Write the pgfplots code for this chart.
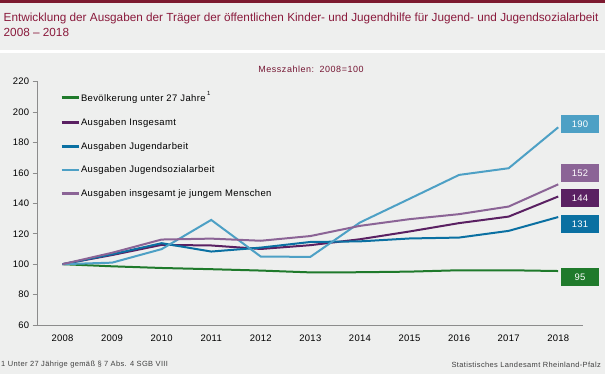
\documentclass[border=0pt]{standalone}
\usepackage{fontspec}
\setmainfont{Liberation Sans}
\usepackage{pgfplots}
\pgfplotsset{compat=1.18}
\definecolor{bg}{HTML}{EEEFEE}
\definecolor{topbar}{HTML}{7D1A30}
\definecolor{titlec}{HTML}{8A1A3C}
\definecolor{cgreen}{HTML}{1F7A2B}
\definecolor{cdpurple}{HTML}{5A2062}
\definecolor{cblue}{HTML}{0A70A2}
\definecolor{clblue}{HTML}{4DA0C5}
\definecolor{clpurple}{HTML}{8B6496}
\definecolor{axisc}{HTML}{8C8C8C}
\begin{document}
\begin{tikzpicture}[x=1bp,y=1bp]
\fill[bg] (0,0) rectangle (605,374);
\useasboundingbox (0,0) rectangle (605,374);
\fill[topbar] (0,371.3) rectangle (605,374);
\fill[white] (0,320.7) rectangle (605,324);
\node[anchor=west,inner sep=0,text=titlec,font=\fontsize{11.8}{13}\selectfont] at (3.5,356) {Entwicklung der Ausgaben der Träger der öffentlichen Kinder- und Jugendhilfe für Jugend- und Jugendsozialarbeit};
\node[anchor=west,inner sep=0,text=titlec,font=\fontsize{11.8}{13}\selectfont] at (3.5,342) {2008 -- 2018};
\node[inner sep=0,text=titlec!85!black,font=\fontsize{9}{10}\selectfont\addfontfeatures{LetterSpace=6}] at (311,305) {Messzahlen:\, 2008=100};
\node[anchor=west,inner sep=0,text=black!75,font=\fontsize{7.5}{8}\selectfont\addfontfeatures{LetterSpace=5}] at (1,9) {1 Unter 27 Jährige gemäß § 7 Abs. 4 SGB VIII};
\node[anchor=east,inner sep=0,text=black!75,font=\fontsize{7.5}{8}\selectfont\addfontfeatures{LetterSpace=5}] at (601,9) {Statistisches Landesamt Rheinland-Pfalz};
\begin{axis}[
  at={(37.7bp,49bp)}, anchor=south west,
  width=545.3bp, height=243.3bp, scale only axis,
  xmin=-0.5, xmax=10.5, ymin=60, ymax=220,
  ytick={60,80,...,220},
  xtick={0,...,10},
  xticklabels={2008,2009,2010,2011,2012,2013,2014,2015,2016,2017,2018},
  minor xtick={-0.5,0.5,...,10.5},
  axis x line*=bottom, axis y line*=left,
  axis line style={axisc, line width=0.8bp},
  tick align=outside,
  major tick length=5bp, minor tick length=4bp,
  xtick style={draw=none},
  minor x tick style={axisc, line width=0.8bp},
  ytick style={axisc, line width=0.8bp},
  tick label style={font=\fontsize{9.5}{10}\selectfont\addfontfeatures{LetterSpace=3}, text=black},
  /pgf/number format/assume math mode=true,
  xticklabel style={yshift=-1bp},
  clip=false,
  legend cell align=left,
  legend style={at={(22.3bp,234.8bp)}, anchor=north west, draw=none, fill=none,
    font=\fontsize{9.5}{10}\selectfont\addfontfeatures{LetterSpace=4}, row sep=13.4bp, inner sep=0pt,
    nodes={inner sep=1bp}},
  legend image code/.code={\draw[#1, line width=2.8bp] (-1bp,0bp) -- (16bp,0bp);},
  every axis plot/.append style={line width=2bp},
]
\addplot[cgreen] coordinates {(0,100) (1,98.6) (2,97.5) (3,96.7) (4,95.8) (5,94.6) (6,94.7) (7,95.1) (8,96.0) (9,96.0) (10,95.5)};
\addlegendentry{Bevölkerung unter 27 Jahre\,\raisebox{6bp}{\fontsize{6}{6}\selectfont 1}}
\addplot[cdpurple] coordinates {(0,100) (1,106) (2,112.7) (3,112.3) (4,110) (5,112.5) (6,116.4) (7,121.5) (8,127) (9,131.3) (10,144.5)};
\addlegendentry{Ausgaben Insgesamt}
\addplot[cblue] coordinates {(0,100) (1,106.5) (2,113.8) (3,108.3) (4,110.9) (5,114.6) (6,115) (7,116.9) (8,117.5) (9,121.9) (10,131)};
\addlegendentry{Ausgaben Jugendarbeit}
\addplot[clblue] coordinates {(0,100) (1,101) (2,109.9) (3,129.1) (4,105) (5,104.8) (6,127.4) (7,143) (8,158.7) (9,163.1) (10,190)};
\addlegendentry{Ausgaben Jugendsozialarbeit}
\addplot[clpurple] coordinates {(0,100) (1,107.5) (2,116.2) (3,116.8) (4,115.4) (5,118.5) (6,125.2) (7,129.6) (8,132.9) (9,137.9) (10,152.5)};
\addlegendentry{Ausgaben insgesamt je jungem Menschen}
\tikzset{vlab/.style={minimum width=38bp, minimum height=18bp, inner sep=0pt, text=white, font=\fontsize{9.5}{10}\selectfont\addfontfeatures{LetterSpace=3}}}
\node[vlab, fill=clblue] at (axis cs:10.44,192.3) {190};
\node[vlab, fill=clpurple] at (axis cs:10.44,160) {152};
\node[vlab, fill=cdpurple] at (axis cs:10.44,143.6) {144};
\node[vlab, fill=cblue] at (axis cs:10.44,126.5) {131};
\node[vlab, fill=cgreen] at (axis cs:10.44,91.6) {95};
\end{axis}
\end{tikzpicture}
\end{document}
